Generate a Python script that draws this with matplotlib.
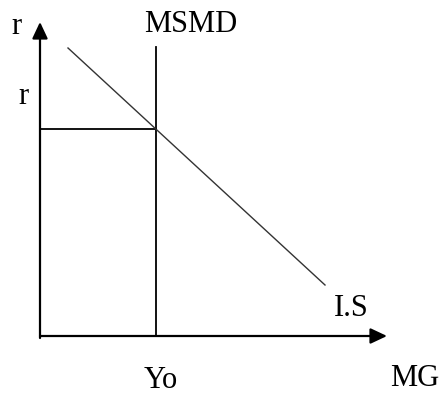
import matplotlib
matplotlib.use("Agg")
import matplotlib.pyplot as plt

# Posições (pixels, origem no canto superior esquerdo)
eixo_x0, eixo_y0 = 40, 336          # origem dos eixos
topo_eixo_y = 22                    # ponta da seta vertical
fim_eixo_x = 387                    # ponta da seta horizontal
y0_x, r_y = 156, 129                # equilíbrio (Yo, r)
msmd_topo = 47
is_x = [68, 325]
is_y = [48, 285]

# Rótulos
rotulos = ["r", "r", "MSMD", "I.S", "Yo", "MG"]
rot_x = [16, 23, 191, 351, 161, 415]
rot_y = [27, 97, 24, 308, 380, 379]

fig = plt.figure(figsize=(4.41, 3.96), dpi=100)
ax = fig.add_axes([0, 0, 1, 1])
ax.set_xlim(0, 441)
ax.set_ylim(396, 0)
ax.axis("off")

seta = dict(arrowstyle="-|>,head_length=1.0,head_width=0.47", lw=1.6,
            color="black", shrinkA=0, shrinkB=0)
ax.annotate("", xy=(eixo_x0, topo_eixo_y), xytext=(eixo_x0, eixo_y0 + 2),
            arrowprops=seta, annotation_clip=False).arrow_patch.set_mutation_scale(10)
ax.annotate("", xy=(fim_eixo_x, eixo_y0), xytext=(eixo_x0, eixo_y0),
            arrowprops=seta, annotation_clip=False).arrow_patch.set_mutation_scale(10)

# MSMD vertical e linha de r
ax.plot([y0_x, y0_x], [msmd_topo, eixo_y0], color="black", lw=1.3)
ax.plot([eixo_x0, y0_x], [r_y, r_y], color="black", lw=1.3)

# Curva I.S
ax.plot(is_x, is_y, color="#333333", lw=1.0)

for t, x, y in zip(rotulos, rot_x, rot_y):
    ax.text(x, y, t, fontsize=22, family="Liberation Serif",
            ha="center", va="center", color="black")

plt.savefig("out.png", dpi=100)
